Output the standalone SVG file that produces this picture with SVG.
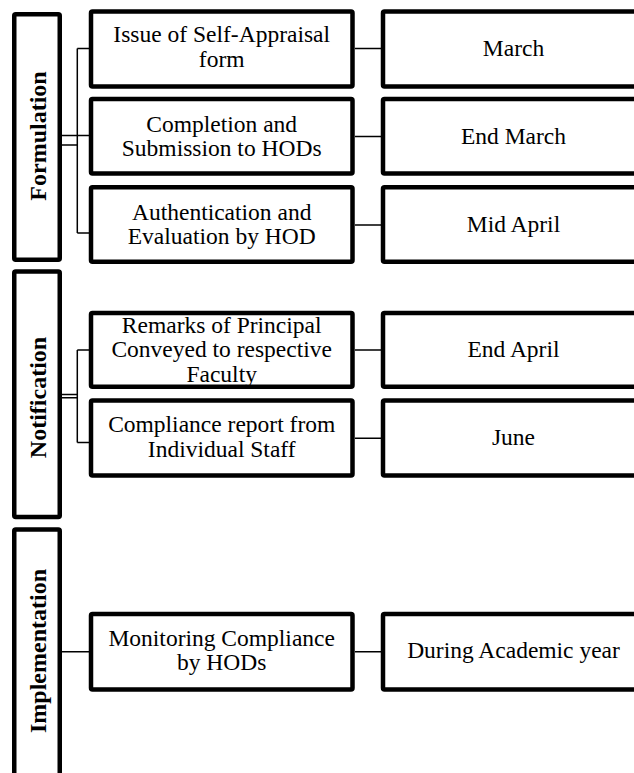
<svg xmlns="http://www.w3.org/2000/svg" width="634" height="773" viewBox="0 0 634 773">
<style>
.box{fill:#fff;stroke:#000;stroke-width:4.5;rx:1.5}
.t{font-family:"Liberation Serif","Times New Roman",serif;font-size:23.5px;fill:#000;text-anchor:middle}
.h{font-family:"Liberation Serif","Times New Roman",serif;font-size:24px;font-weight:bold;fill:#000;text-anchor:middle}
.c{fill:none;stroke:#000;stroke-width:1.5}
</style>
<rect width="634" height="773" fill="#fff"/>
<g id="connectors">
<path class="c" d="M62,135.5H89M62,145H77.3M77.3,48.5V233M77.3,48.5H89M77.3,233H89"/>
<path class="c" d="M355,48.5H381M355,136.5H381M355,225H381"/>
<path class="c" d="M62,394.5H77.3M62,397.8H77.3M77.3,350V442.5M77.3,350H89M77.3,442.5H89"/>
<path class="c" d="M355,350H381M355,438.3H381"/>
<path class="c" d="M62,651.7H89M355,651.7H381"/>
</g>
<g id="formulation">
<rect class="box" x="14.25" y="14.25" width="45.5" height="245.5"/>
<text class="h" transform="translate(46,136) rotate(-90)">Formulation</text>
</g>
<g id="issue">
<rect class="box" x="91" y="11.5" width="261.5" height="75"/>
<text class="t" x="221.7" y="42.3">Issue of Self-Appraisal</text>
<text class="t" x="221.7" y="66.7">form</text>
</g>
<g id="march">
<rect class="box" x="383" y="11.5" width="261" height="75"/>
<text class="t" x="513.5" y="56">March</text>
</g>
<g id="completion">
<rect class="box" x="91" y="99" width="261.5" height="74.5"/>
<text class="t" x="221.7" y="131.7">Completion and</text>
<text class="t" x="221.7" y="155.7">Submission to HODs</text>
</g>
<g id="end-march">
<rect class="box" x="383" y="99" width="261" height="74.5"/>
<text class="t" x="513.5" y="144">End March</text>
</g>
<g id="authentication">
<rect class="box" x="91" y="187.3" width="261.5" height="74.5"/>
<text class="t" x="221.7" y="220">Authentication and</text>
<text class="t" x="221.7" y="244.3">Evaluation by HOD</text>
</g>
<g id="mid-april">
<rect class="box" x="383" y="187.3" width="261" height="74.5"/>
<text class="t" x="513.5" y="231.7">Mid April</text>
</g>
<g id="notification">
<rect class="box" x="14.25" y="271.5" width="45.5" height="245.5"/>
<text class="h" transform="translate(46,397.5) rotate(-90)">Notification</text>
</g>
<g id="remarks">
<rect class="box" x="91" y="313" width="261.5" height="73.8"/>
<text class="t" x="221.7" y="333">Remarks of Principal</text>
<text class="t" x="221.7" y="357.4">Conveyed to respective</text>
<text class="t" x="221.7" y="381.8">Faculty</text>
</g>
<g id="end-april">
<rect class="box" x="383" y="313" width="261" height="73.8"/>
<text class="t" x="513.5" y="356.7">End April</text>
</g>
<g id="compliance">
<rect class="box" x="91" y="400.5" width="261.5" height="75"/>
<text class="t" x="221.7" y="431.7">Compliance report from</text>
<text class="t" x="221.7" y="456.7">Individual Staff</text>
</g>
<g id="june">
<rect class="box" x="383" y="400.5" width="261" height="75"/>
<text class="t" x="513.5" y="445">June</text>
</g>
<g id="implementation">
<rect class="box" x="14.25" y="529.5" width="45.5" height="300"/>
<text class="h" transform="translate(46,651) rotate(-90)">Implementation</text>
</g>
<g id="monitoring">
<rect class="box" x="91" y="614" width="261.5" height="75.5"/>
<text class="t" x="221.7" y="646">Monitoring Compliance</text>
<text class="t" x="221.7" y="670">by HODs</text>
</g>
<g id="academic-year">
<rect class="box" x="383" y="614" width="261" height="75.5"/>
<text class="t" x="513.5" y="658.3">During Academic year</text>
</g>
</svg>
